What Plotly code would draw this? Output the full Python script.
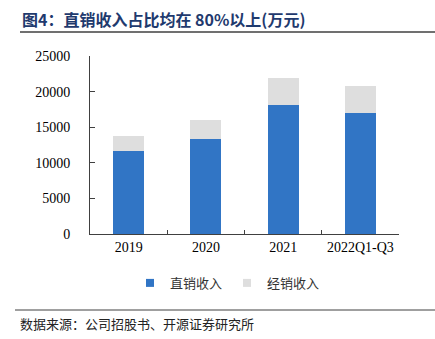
import plotly.graph_objects as go

categories = ["2019", "2020", "2021", "2022Q1-Q3"]
direct_sales = [11650, 13350, 18150, 16950]
distrib_sales = [2050, 2600, 3750, 3850]
y_ticks = [0, 5000, 10000, 15000, 20000, 25000]
y_tick_text = ["0", "5000", "10000", "15000", "20000", "25000"]
series_names = ["直销收入", "经销收入"]
series_colors = ["#3175C5", "#DEDEDE"]

W, H = 435, 339
L, R, T, B = 90, 36, 56, 105

fig = go.Figure()
for vals, name, col in zip([direct_sales, distrib_sales], series_names, series_colors):
    fig.add_trace(go.Bar(x=categories, y=vals, name=name, showlegend=False,
                         marker=dict(color=col, line=dict(width=0)), width=0.4))
# legend proxies with small square markers
for name, col in zip(series_names, series_colors):
    fig.add_trace(go.Scatter(x=[None], y=[None], mode="markers", name=name,
                             marker=dict(symbol="square", size=8, color=col)))

serif = "Liberation Serif, Times New Roman, serif"
cjk = "Noto Sans CJK SC"

fig.update_layout(
    barmode="stack",
    width=W, height=H,
    margin=dict(l=L, r=R, t=T, b=B, pad=0),
    paper_bgcolor="white", plot_bgcolor="white",
    showlegend=True,
    legend=dict(orientation="h", traceorder="normal", x=0.445, xanchor="center", y=-0.275, yanchor="middle",
                font=dict(family=cjk, size=13, color="#333333"),
                itemwidth=30, tracegroupgap=0),
    xaxis=dict(showline=True, linecolor="#404040", linewidth=1,
               ticks="inside", ticklen=4, tickcolor="#404040", tickson="boundaries",
               tickfont=dict(family=serif, size=14, color="#000000"),
               showgrid=False, zeroline=False),
    yaxis=dict(range=[0, 25000], tickvals=y_ticks, ticktext=y_tick_text,
               showline=True, linecolor="#404040", linewidth=1,
               ticks="inside", ticklen=5, tickcolor="#404040",
               tickfont=dict(family=serif, size=14, color="#000000"),
               showgrid=False, zeroline=False, ticklabelstandoff=16),
    annotations=[
        dict(text="<b>图4：直销收入占比均在 80%以上(万元)</b>", xref="paper", yref="paper",
             x=(20 - L) / (W - L - R), y=1 + (T - 19) / (H - T - B),
             xanchor="left", yanchor="middle", showarrow=False,
             font=dict(family=cjk + ", " + serif, size=16, color="#1F3A6E")),
        dict(text="数据来源：公司招股书、开源证券研究所", xref="paper", yref="paper",
             x=(18 - L) / (W - L - R), y=-(323 - (H - B)) / (H - T - B),
             xanchor="left", yanchor="middle", showarrow=False,
             font=dict(family=cjk, size=13, color="#222222")),
    ],
    shapes=[
        dict(type="line", xref="paper", yref="paper",
             x0=(20 - L) / (W - L - R), x1=1 + R / (W - L - R),
             y0=1 + (T - 32) / (H - T - B), y1=1 + (T - 32) / (H - T - B),
             line=dict(color="#707070", width=2)),
        dict(type="line", xref="paper", yref="paper",
             x0=(15 - L) / (W - L - R), x1=1 + R / (W - L - R),
             y0=-(310 - (H - B)) / (H - T - B), y1=-(310 - (H - B)) / (H - T - B),
             line=dict(color="#404040", width=1)),
    ],
)

fig.write_html("out.html")
